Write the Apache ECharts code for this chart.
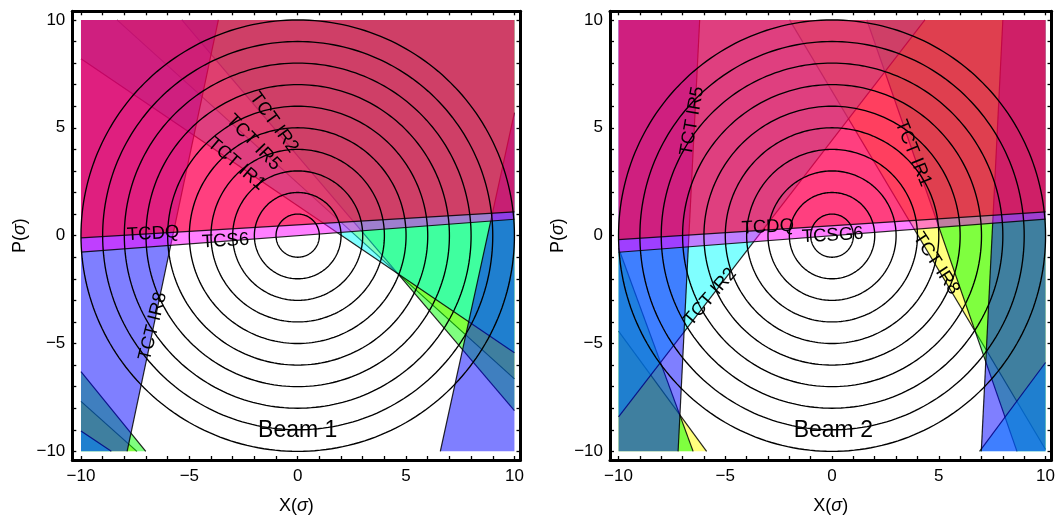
<!DOCTYPE html>
<html><head><meta charset="utf-8">
<script src="https://cdn.jsdelivr.net/npm/echarts@6/dist/echarts.min.js"></script>
<style>html,body{margin:0;padding:0;background:#fff}#chart{width:1058px;height:520px}</style>
</head><body><div id="chart"></div>
<script>
// ---------------- data ----------------
const axisTicks = [-10,-9,-8,-7,-6,-5,-4,-3,-2,-1,0,1,2,3,4,5,6,7,8,9,10];
const tickLabels = [-10,-5,0,5,10];
const ringRadii = [1,2,3,4,5,6,7,8,9,10];
const plotExtent = [-10, 10];

// collimator jaws: [x1, y1, x2, y2, covered side]
const beam1TCTIR5 = [[-8.34,10,4.62,-1.76,'above'],[-10,-7.68,-7.42,-10,'below']];
const beam1TCTIR2 = [[4.62,-1.76,9.9,-7.99,'above'],[-10,-6.3,-7.01,-10,'below']];
const beam1TCTIR1 = [[-10,8.2,4.62,-1.76,'above'],[-10,-9.06,-8.6,-10,'below']];
const beam1TCTIR8 = [[-7.87,-10,-3.66,10,'left'],[6.58,-10,10,5.7,'right']];
const beam1TCS6   = [[-10,-0.76,10,0.76,'above']];
const beam1TCDQ   = [[-10,-0.1,10,1.1,'above']];

const beam2TCTIR8 = [[-1.99,10,6.71,-4.45,'above'],[-9.98,-4.45,-7.14,-8.29,'below']];
const beam2TCTIR1 = [[1.63,10,6.71,-4.45,'above'],[-9.9,-0.84,-7.14,-8.29,'below']];
const beam2TCTIR2 = [[-9.98,-8.37,4.35,10,'above'],[6.91,-10,10,-5.88,'below']];
const beam2TCTIR5 = [[-7.21,-10,-6.2,10,'left'],[6.99,-10,8.0,10,'right']];
const beam2TCSG6  = [[-10,-0.77,10,0.77,'above']];
const beam2TCDQ   = [[-10,-0.18,10,1.1,'above']];

const beam1Labels = ['TCT IR2','TCT IR5','TCT IR1','TCDQ','TCS6','TCT IR8','Beam 1'];
const beam2Labels = ['TCT IR5','TCT IR1','TCT IR2','TCT IR8','TCDQ','TCSG6','Beam 2'];

// ---------------- layout / style ----------------
const beam1LabelAnchor = [[-1.10,5.24,-54],[-2.04,4.32,-46],[-2.83,3.32,-41],[-6.67,0.09,3.4],[-3.33,-0.25,3.4],[-6.68,-4.21,76],[0,-9.06,0]];
const beam2LabelAnchor = [[-6.55,5.31,80],[3.80,3.82,-68],[-5.70,-2.84,49],[4.88,-1.29,-57],[-3.01,0.40,3.4],[0.03,0.01,3.4],[0.06,-9.05,0]];
const FONT = '"Liberation Sans", Arial, Helvetica, sans-serif';
const layerFill = {Y:'rgba(255,255,0,0.5)', G:'rgba(0,255,0,0.5)', C:'rgba(0,255,255,0.5)',
                   B:'rgba(0,0,255,0.5)', M:'rgba(255,0,255,0.5)', R:'rgba(255,0,0,0.5)'};

function halfPlane(jaw) {
  const [x1,y1,x2,y2,side] = jaw;
  const f = (x,y) => (x2-x1)*(y-y1) - (y2-y1)*(x-x1);
  const mx=(x1+x2)/2, my=(y1+y2)/2;
  const ref = side==='above'?[mx,my+1e3]:side==='below'?[mx,my-1e3]:side==='left'?[mx-1e3,my]:[mx+1e3,my];
  const s = Math.sign(f(ref[0],ref[1]));
  const lo=plotExtent[0], hi=plotExtent[1];
  const box=[[lo,lo],[hi,lo],[hi,hi],[lo,hi]];
  const poly=[], edge=[];
  for (let i=0;i<box.length;i++){
    const P=box[i], Q=box[(i+1)%box.length];
    const fp=s*f(P[0],P[1]), fq=s*f(Q[0],Q[1]);
    if (fp>=0) poly.push(P);
    if ((fp>=0)!==(fq>=0)) {
      const t=fp/(fp-fq);
      const X=[P[0]+t*(Q[0]-P[0]), P[1]+t*(Q[1]-P[1])];
      poly.push(X); edge.push(X);
    }
  }
  return {poly, edge};
}

function layerSeries(jaws, fill, gi) {
  return {
    type:'custom', xAxisIndex:gi*2, yAxisIndex:gi*2, silent:true, animation:false,
    data: jaws.map(j=>[j[0],j[1],j[2],j[3]]),
    encode:{x:[0,2], y:[1,3]},
    renderItem(params, api){
      const hp = halfPlane(jaws[params.dataIndex]);
      const pts = hp.poly.map(p=>api.coord(p));
      const children=[{type:'polygon', shape:{points:pts}, style:{fill:fill, stroke:null}}];
      if (hp.edge.length>=2) {
        const a=api.coord(hp.edge[0]), b=api.coord(hp.edge[1]);
        children.push({type:'line', shape:{x1:a[0],y1:a[1],x2:b[0],y2:b[1]},
          style:{stroke:'rgba(0,0,0,0.85)', lineWidth:1.2}});
      }
      return {type:'group', children};
    }
  };
}

function ringSeries(gi) {
  return {
    type:'custom', xAxisIndex:gi*2, yAxisIndex:gi*2, silent:true, animation:false,
    data: ringRadii.map(r=>[r, 0]),
    renderItem(params, api){
      const r = ringRadii[params.dataIndex];
      const pts=[];
      for (let k=0;k<=240;k++){ const t=k/240*2*Math.PI; pts.push(api.coord([r*Math.cos(t), r*Math.sin(t)])); }
      return {type:'polyline', shape:{points:pts}, style:{stroke:'#000', lineWidth:1.35, fill:null}};
    }
  };
}

function labelSeries(texts, anchors, gi) {
  return {
    type:'custom', xAxisIndex:gi*2, yAxisIndex:gi*2, silent:true, animation:false,
    data: anchors.map(a=>[a[0],a[1]]),
    renderItem(params, api){
      const i=params.dataIndex, a=anchors[i];
      const p=api.coord([a[0],a[1]]);
      const isBeam = texts[i].indexOf('Beam')===0;
      return {type:'text', x:p[0], y:p[1], rotation:a[2]*Math.PI/180,
        style:{text:texts[i], fill:'#000', fontSize:isBeam?23:18.5, fontFamily:FONT,
               align:'center', verticalAlign:'middle'}};
    }
  };
}

const fmt = v => (v<0?'\u2212':'')+Math.abs(v);
function xAxes(gi){
  const base = {gridIndex:gi, type:'value', min:-10.4, max:10.28, splitLine:{show:false},
    axisLine:{show:true, onZero:false, lineStyle:{color:'#000', width:3}},
    axisTick:{show:true, inside:true, length:4, customValues:axisTicks, lineStyle:{color:'#000', width:1.3}}};
  return [
    Object.assign({}, base, {position:'bottom',
      axisLabel:{customValues:tickLabels, formatter:fmt, fontSize:17, color:'#000', fontFamily:FONT, margin:8},
      name:'X({i|\u03c3})', nameLocation:'middle', nameGap:37,
      nameTextStyle:{fontSize:18, color:'#000', fontFamily:FONT, rich:{i:{fontStyle:'italic', fontSize:18, fontFamily:FONT, color:'#000'}}}}),
    Object.assign({}, base, {position:'top', axisLabel:{show:false}})
  ];
}
function yAxes(gi){
  const base = {gridIndex:gi, type:'value', min:-10.4, max:10.4, splitLine:{show:false},
    axisLine:{show:true, onZero:false, lineStyle:{color:'#000', width:3}},
    axisTick:{show:true, inside:true, length:4, customValues:axisTicks, lineStyle:{color:'#000', width:1.3}}};
  return [
    Object.assign({}, base, {position:'left',
      axisLabel:{customValues:tickLabels, formatter:fmt, fontSize:17, color:'#000', fontFamily:FONT, margin:7},
      name:'P({i|\u03c3})', nameLocation:'middle', nameGap:43, nameRotate:90,
      nameTextStyle:{fontSize:18, color:'#000', fontFamily:FONT, rich:{i:{fontStyle:'italic', fontSize:18, fontFamily:FONT, color:'#000'}}}}),
    Object.assign({}, base, {position:'right', axisLabel:{show:false}})
  ];
}

const series = [
  layerSeries(beam1TCTIR5, layerFill.Y, 0),
  layerSeries(beam1TCTIR2, layerFill.G, 0),
  layerSeries(beam1TCTIR1, layerFill.C, 0),
  layerSeries(beam1TCTIR8, layerFill.B, 0),
  layerSeries(beam1TCS6,   layerFill.M, 0),
  layerSeries(beam1TCDQ,   layerFill.R, 0),
  ringSeries(0),
  labelSeries(beam1Labels, beam1LabelAnchor, 0),
  layerSeries(beam2TCTIR8, layerFill.Y, 1),
  layerSeries(beam2TCTIR1, layerFill.G, 1),
  layerSeries(beam2TCTIR2, layerFill.C, 1),
  layerSeries(beam2TCTIR5, layerFill.B, 1),
  layerSeries(beam2TCSG6,  layerFill.M, 1),
  layerSeries(beam2TCDQ,   layerFill.R, 1),
  ringSeries(1),
  labelSeries(beam2Labels, beam2LabelAnchor, 1)
];

const chart = echarts.init(document.getElementById('chart'), null, {renderer:'canvas'});
chart.setOption({
  animation:false,
  backgroundColor:'#fff',
  grid:[{left:72.3, top:11.3, width:448.2, height:451.4},
        {left:610, top:11.3, width:447.7, height:451.4}],
  xAxis:[...xAxes(0), ...xAxes(1)],
  yAxis:[...yAxes(0), ...yAxes(1)],
  series
});
</script></body></html>
